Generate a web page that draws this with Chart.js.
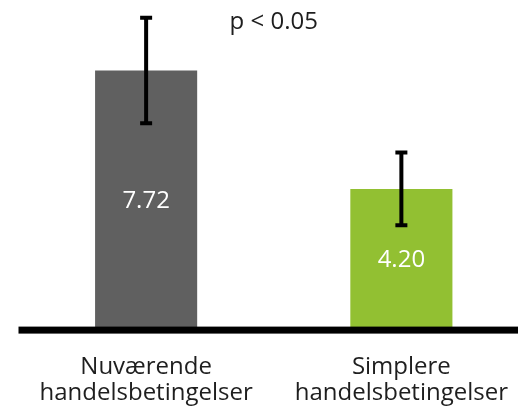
<!DOCTYPE html>
<html>
<head>
<meta charset="utf-8">
<script src="https://cdn.jsdelivr.net/npm/chart.js@4"></script>
<style>
    html, body { margin: 0; padding: 0; background: #fff; overflow: hidden; }
    #wrap { width: 518px; height: 409px; overflow: hidden; }
</style>
</head>
<body>
<div id="wrap">
    <canvas id="grafico" width="529" height="409"></canvas>
</div>
<script>
const categorias = [['Nuværende', 'handelsbetingelser'], ['Simplere', 'handelsbetingelser']];
const medias = [7.72, 4.20];
const errores = [1.57, 1.08];
const colores = ['#606060', '#92c032'];
const textoP = 'p < 0.05';

// barras de error, etiquetas y linea del eje
const extras = {
    id: 'extras',
    afterDatasetsDraw(chart) {
        const ctx = chart.ctx;
        const y = chart.scales.y;
        const area = chart.chartArea;
        const barras = chart.getDatasetMeta(0).data;

        ctx.save();
        // linea del eje x
        ctx.fillStyle = '#000';
        ctx.fillRect(area.left, area.bottom - 3.5, area.right - area.left, 7);

        barras.forEach((bar, i) => {
            const arriba = y.getPixelForValue(medias[i] + errores[i]);
            const abajo = y.getPixelForValue(medias[i] - errores[i]);
            ctx.strokeStyle = '#000';
            ctx.lineWidth = 4;
            ctx.beginPath();
            ctx.moveTo(bar.x, arriba);
            ctx.lineTo(bar.x, abajo);
            ctx.moveTo(bar.x - 6, arriba);
            ctx.lineTo(bar.x + 6, arriba);
            ctx.moveTo(bar.x - 6, abajo);
            ctx.lineTo(bar.x + 6, abajo);
            ctx.stroke();

            ctx.fillStyle = '#fff';
            ctx.font = '24px "Open Sans"';
            ctx.textAlign = 'center';
            ctx.textBaseline = 'middle';
            ctx.fillText(medias[i].toFixed(2), bar.x, (bar.y + bar.base) / 2 + 1);
        });
        ctx.restore();
    }
};

new Chart(document.getElementById('grafico'), {
    type: 'bar',
    data: {
        labels: categorias,
        datasets: [{
            data: medias,
            backgroundColor: colores,
            borderWidth: 0,
            barPercentage: 0.4,
            categoryPercentage: 1
        }]
    },
    options: {
        responsive: false,
        animation: false,
        layout: {
            padding: { left: 18.5, right: 0, top: 0, bottom: 3 }
        },
        scales: {
            x: {
                grid: { display: true, color: 'transparent', drawTicks: true, tickLength: 24.5 },
                border: { display: false },
                ticks: {
                    padding: 0,
                    color: '#1e1e1e',
                    font: { family: 'Open Sans', size: 24, lineHeight: '25.7px' }
                }
            },
            y: {
                display: false,
                min: 0,
                max: 8.74
            }
        },
        plugins: {
            legend: { display: false },
            tooltip: { enabled: false },
            title: {
                display: true,
                text: textoP,
                fullSize: false,
                color: '#1e1e1e',
                font: { family: 'Open Sans', size: 24, weight: 'normal', lineHeight: 1.2 },
                padding: { top: 7.5, bottom: 0 }
            }
        }
    },
    plugins: [extras]
});
</script>
</body>
</html>
